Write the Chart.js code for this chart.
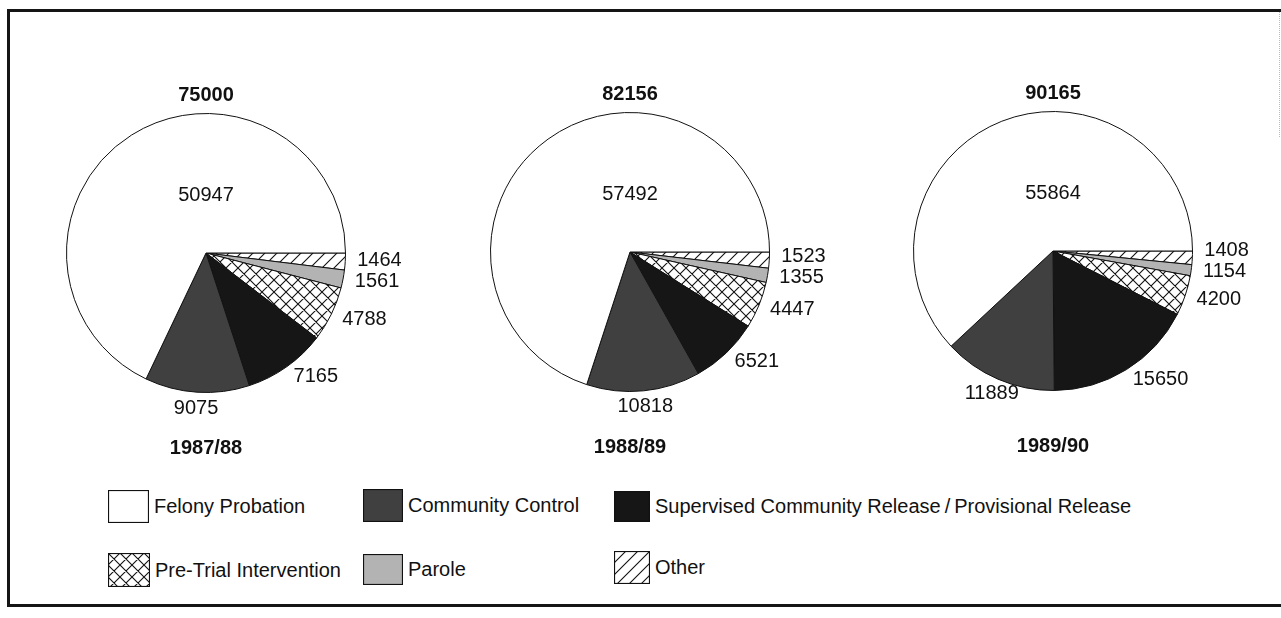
<!DOCTYPE html>
<html><head><meta charset="utf-8">
<script src="https://cdn.jsdelivr.net/npm/chart.js@4.4.1/dist/chart.umd.min.js"></script>
<style>
html,body{margin:0;padding:0;background:#fff;width:1281px;height:618px;overflow:hidden;font-family:"Liberation Sans",Arial,Helvetica,sans-serif;}
#frame{position:absolute;left:7px;top:9px;width:1300px;height:592px;border-left:3px solid #151515;border-top:3px solid #151515;border-bottom:3px solid #151515;}
#dots{position:absolute;left:1279px;top:12px;height:125px;border-left:1px dotted #bbb;}
.pie{position:absolute;top:40px;}
.leg{position:absolute;display:flex;align-items:center;font-size:20px;color:#111;white-space:nowrap;}
.leg canvas{display:block;margin-right:5px;}
</style></head><body>
<div id="frame"></div>
<div id="dots"></div>
<canvas id="p0" class="pie" width="440" height="440"></canvas>
<canvas id="p1" class="pie" width="440" height="440"></canvas>
<canvas id="p2" class="pie" width="440" height="440"></canvas>
<div id="legend"></div>
<script>
// ---- data ----
const years = ['1987/88', '1988/89', '1989/90'];
const totals = [75000, 82156, 90165];
const categories = ['Felony Probation', 'Community Control', 'Supervised Community Release\u2009/\u2009Provisional Release', 'Pre-Trial Intervention', 'Parole', 'Other'];
const felonyProbation = [50947, 57492, 55864];
const communityControl = [9075, 10818, 11889];
const supervisedRelease = [7165, 6521, 15650];
const preTrial = [4788, 4447, 4200];
const parole = [1561, 1355, 1154];
const other = [1464, 1523, 1408];
const series = [felonyProbation, communityControl, supervisedRelease, preTrial, parole, other];

// ---- layout ----
const pieCenters = [[206, 253], [630, 252], [1053, 251]];
const CW = 440, CH = 440, CTOP = 40, R = 140;

// ---- patterns ----
function makeHatch(cross) {
  const s = 12, c = document.createElement('canvas');
  c.width = c.height = s;
  const g = c.getContext('2d');
  g.fillStyle = '#fff'; g.fillRect(0, 0, s, s);
  g.strokeStyle = '#111'; g.lineWidth = 1.1;
  g.beginPath();
  g.moveTo(0, s); g.lineTo(s, 0);
  g.moveTo(-2, 2); g.lineTo(2, -2);
  g.moveTo(s - 2, s + 2); g.lineTo(s + 2, s - 2);
  if (cross) {
    g.moveTo(0, 0); g.lineTo(s, s);
    g.moveTo(s - 2, -2); g.lineTo(s + 2, 2);
    g.moveTo(-2, s - 2); g.lineTo(2, s + 2);
  }
  g.stroke();
  return c;
}
const hatchCanvas = makeHatch(false), crossCanvas = makeHatch(true);
function fillsFor(ctx) {
  return ['#ffffff', '#404040', '#161616',
    ctx.createPattern(crossCanvas, 'repeat'), '#b3b3b3',
    ctx.createPattern(hatchCanvas, 'repeat')];
}

// ---- value labels / titles plugin ----
const labelPlugin = {
  id: 'pieLabels',
  afterDatasetsDraw(chart, args, opts) {
    const ctx = chart.ctx, meta = chart.getDatasetMeta(0), data = chart.data.datasets[0].data;
    const sum = data.reduce((a, b) => a + b, 0);
    ctx.save();
    ctx.fillStyle = '#111';
    ctx.textBaseline = 'middle';
    ctx.font = '20px "Liberation Sans", Arial, sans-serif';
    let cx = 0, cy = 0;
    const items = [];
    meta.data.forEach((arc, i) => {
      const p = arc.getProps(['x', 'y', 'startAngle', 'endAngle', 'outerRadius'], true);
      cx = p.x; cy = p.y;
      const v = data[i], mid = (p.startAngle + p.endAngle) / 2;
      let x, y, align;
      if (v / sum > 0.5) {
        x = p.x; y = p.y - p.outerRadius * 0.41; align = 'center';
      } else {
        const c = Math.cos(mid);
        if (Math.abs(c) < 0.45) {
          const r = p.outerRadius + 16;
          x = p.x + c * r; y = p.y + Math.sin(mid) * r; align = 'center';
        } else {
          const r = p.outerRadius + 12;
          x = p.x + c * r; y = p.y + Math.sin(mid) * r; align = c > 0 ? 'left' : 'right';
        }
      }
      items.push({ v, x, y, align });
    });
    // keep right-side labels from overlapping (push upward)
    const right = items.filter(o => o.align === 'left').sort((a, b) => a.y - b.y);
    for (let j = right.length - 2; j >= 0; j--) {
      if (right[j].y > right[j + 1].y - 21) right[j].y = right[j + 1].y - 21;
    }
    items.forEach(o => { ctx.textAlign = o.align; ctx.fillText(String(o.v), o.x, o.y); });
    ctx.font = 'bold 20px "Liberation Sans", Arial, sans-serif';
    ctx.textAlign = 'center';
    ctx.fillText(String(opts.total), cx, cy - 158);
    ctx.fillText(opts.year, cx, cy + 195);
    ctx.restore();
  }
};

// ---- charts ----
years.forEach((yr, k) => {
  const cv = document.getElementById('p' + k);
  const [cx, cy] = pieCenters[k];
  cv.style.left = (cx - CW / 2) + 'px';
  const padTop = cy - R - CTOP;
  const ctx = cv.getContext('2d');
  // draw order clockwise from 3 o'clock: Other, Parole, PTI, SCR, CC, Felony
  const order = [5, 4, 3, 2, 1, 0];
  const fills = fillsFor(ctx);
  new Chart(cv, {
    type: 'pie',
    data: {
      labels: order.map(i => categories[i]),
      datasets: [{
        data: order.map(i => series[i][k]),
        backgroundColor: order.map(i => fills[i]),
        borderColor: '#111',
        borderWidth: 1
      }]
    },
    options: {
      responsive: false,
      animation: false,
      events: [],
      rotation: 90,
      layout: { padding: { left: (CW - 2 * R) / 2, right: (CW - 2 * R) / 2, top: padTop, bottom: CH - padTop - 2 * R } },
      plugins: {
        legend: { display: false },
        tooltip: { enabled: false },
        title: { display: false },
        pieLabels: { total: totals[k], year: yr }
      }
    },
    plugins: [labelPlugin]
  });
});

// ---- legend ----
const legendSlots = [
  [108, 490, 41, 33], [363, 489, 40, 33], [614, 491, 36, 31],
  [108, 553, 42, 34], [363, 554, 40, 31], [614, 551, 36, 33]
];
const legendEl = document.getElementById('legend');
categories.forEach((name, i) => {
  const [x, y, w, h] = legendSlots[i];
  const d = document.createElement('div');
  d.className = 'leg';
  d.style.left = x + 'px'; d.style.top = y + 'px'; d.style.height = h + 'px';
  const sw = document.createElement('canvas');
  sw.width = w; sw.height = h;
  const g = sw.getContext('2d');
  g.fillStyle = fillsFor(g)[i];
  g.fillRect(0, 0, w, h);
  g.strokeStyle = '#111'; g.lineWidth = 1.2;
  g.strokeRect(0.5, 0.5, w - 1, h - 1);
  d.appendChild(sw);
  const t = document.createElement('span');
  t.textContent = name;
  d.appendChild(t);
  legendEl.appendChild(d);
});
</script>
</body></html>
